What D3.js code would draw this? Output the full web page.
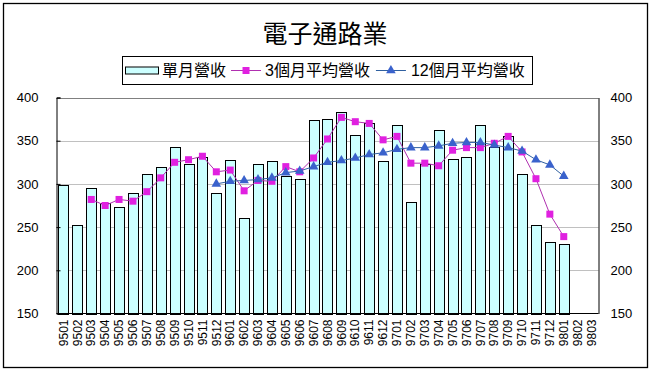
<!DOCTYPE html>
<html>
<head>
<meta charset="utf-8">
<script src="https://cdn.jsdelivr.net/npm/d3@7"></script>
<style>
  body { margin: 0; background: #fff; }
  text { font-family: "Liberation Sans", "Noto Sans CJK TC", sans-serif; }
</style>
</head>
<body>
<div class="canvas"></div>
<script>
const title = '電子通路業'
const categories = ['9501','9502','9503','9504','9505','9506','9507','9508','9509','9510','9511','9512',
    '9601','9602','9603','9604','9605','9606','9607','9608','9609','9610','9611','9612',
    '9701','9702','9703','9704','9705','9706','9707','9708','9709','9710','9711','9712',
    '9801','9802','9803']
const monthly = [299,252,295,278,273,289,312,319,343,323,331,289,
    328,260,323,327,309,306,374,375,383,357,370,326,
    368,279,323,362,329,331,368,343,355,311,252,233,
    230,null,null]
const avg3 = [null,null,282,275,282,280,291,307,325,328,332,314,
    316,292,304,303,320,314,330,352,377,372,370,351,
    355,324,324,321,339,342,342,347,355,337,306,265,
    239,null,null]
const avg12 = [null,null,null,null,null,null,null,null,null,null,null,300,
    303,304,305,307,313,315,320,325,327,330,334,336,
    340,342,342,344,347,348,348,345,342,338,328,322,
    309,null,null]
const yTicks = [150,200,250,300,350,400]
const seriesNames = ['單月營收','3個月平均營收','12個月平均營收']

const width = 652, height = 372
const svg = d3.select('.canvas').append('svg').attr('width', width).attr('height', height)

const plot = { left: 56.5, right: 598.5, top: 97.5, bottom: 313.5 }

// outer frame
svg.append('rect').attr('x', 3.5).attr('y', 3.5).attr('width', 644).attr('height', 364)
    .attr('fill', '#fff').attr('stroke', '#000').attr('stroke-width', 1.3)

svg.append('text').attr('x', 325).attr('y', 43).attr('text-anchor', 'middle')
    .style('font-family', '"Noto Sans CJK TC"').attr('font-size', 25).attr('font-weight', 400)
    .text(title)

const x = d3.scaleBand().domain(categories).range([plot.left, plot.right])
    .paddingInner(0.28).paddingOuter(0.14)
const y = d3.scaleLinear().domain([150, 400]).range([plot.bottom, plot.top])
const cx = c => x(c) + x.bandwidth() / 2

// grid
svg.append('g').selectAll('line').data(yTicks.filter(d => d > 150)).join('line')
    .attr('x1', plot.left).attr('x2', plot.right)
    .attr('y1', d => Math.round(y(d)) + 0.5).attr('y2', d => Math.round(y(d)) + 0.5)
    .attr('stroke', d => d === 400 ? '#808080' : '#c0c0c0').attr('stroke-width', 1)

// bars
const bars = categories.map((c, i) => ({ c, v: monthly[i] })).filter(d => d.v != null)
svg.append('g').selectAll('rect').data(bars).join('rect')
    .attr('x', d => Math.round(x(d.c)) + 0.5)
    .attr('y', d => Math.round(y(d.v)) + 0.5)
    .attr('width', Math.round(x.bandwidth()))
    .attr('height', d => Math.round(y(150)) - Math.round(y(d.v)))
    .attr('fill', '#ccffff').attr('stroke', '#000').attr('stroke-width', 1)

// axes
const leftAxis = d3.axisLeft(y).tickValues(yTicks).tickSize(-4).tickPadding(18)
const rightAxis = d3.axisRight(y).tickValues(yTicks).tickSize(0).tickPadding(12)
const gl = svg.append('g').attr('transform', `translate(${plot.left},0)`).call(leftAxis)
const gr = svg.append('g').attr('transform', `translate(${plot.right},0)`).call(rightAxis)
;[gl, gr].forEach(g => {
    g.select('.domain').attr('stroke', '#000')
    g.selectAll('.tick line').attr('stroke', '#000')
    g.selectAll('text').attr('font-size', 13).attr('fill', '#000')
        .style('font-family', '"Liberation Sans", sans-serif')
})
svg.append('line').attr('x1', plot.left).attr('x2', plot.right)
    .attr('y1', plot.bottom).attr('y2', plot.bottom).attr('stroke', '#000')

const xAxis = d3.axisBottom(x).tickSize(0).tickPadding(0)
const gx = svg.append('g').attr('transform', `translate(0,${plot.bottom})`).call(xAxis)
gx.select('.domain').remove()
gx.selectAll('text').attr('transform', 'translate(0,6) rotate(-90)')
    .attr('text-anchor', 'end').attr('x', 0).attr('y', 0).attr('dy', '0.35em')
    .attr('font-size', 12).attr('fill', '#000')
    .style('font-family', '"Liberation Sans", sans-serif')

// lines
const line = d3.line().defined(d => d.v != null).x(d => cx(d.c)).y(d => y(d.v))
const s3 = categories.map((c, i) => ({ c, v: avg3[i] }))
const s12 = categories.map((c, i) => ({ c, v: avg12[i] }))

svg.append('path').datum(s3).attr('d', line).attr('fill', 'none')
    .attr('stroke', '#b030b0').attr('stroke-width', 1)
svg.append('g').selectAll('rect').data(s3.filter(d => d.v != null)).join('rect')
    .attr('x', d => cx(d.c) - 3.5).attr('y', d => y(d.v) - 3.5)
    .attr('width', 7).attr('height', 7).attr('fill', '#e020e0')

svg.append('path').datum(s12).attr('d', line).attr('fill', 'none')
    .attr('stroke', '#3060a0').attr('stroke-width', 1)
const tri = d3.symbol().type(d3.symbolTriangle).size(40)
svg.append('g').selectAll('path').data(s12.filter(d => d.v != null)).join('path')
    .attr('d', tri).attr('transform', d => `translate(${cx(d.c)},${y(d.v)})`)
    .attr('fill', '#3a62cc')

// legend
const lg = svg.append('g')
lg.append('rect').attr('x', 122.5).attr('y', 56.5).attr('width', 410).attr('height', 28)
    .attr('fill', '#fff').attr('stroke', '#000').attr('stroke-width', 1)
const ly = 70.5
let lx = 125
const addText = (t) => {
    const el = lg.append('text').attr('x', lx).attr('y', ly).attr('dy', '0.35em')
        .attr('font-size', 16).attr('fill', '#000').text(t)
    lx += el.node().getComputedTextLength()
}
lg.append('rect').attr('x', lx + 0.5).attr('y', ly - 3.5).attr('width', 33).attr('height', 7)
    .attr('fill', '#ccffff').attr('stroke', '#000')
lx += 37
addText(seriesNames[0])
lx += 5
lg.append('line').attr('x1', lx).attr('x2', lx + 30).attr('y1', ly).attr('y2', ly).attr('stroke', '#b030b0')
lg.append('rect').attr('x', lx + 11.5).attr('y', ly - 3.5).attr('width', 7).attr('height', 7).attr('fill', '#e020e0')
lx += 34
addText(seriesNames[1])
lx += 6
lg.append('line').attr('x1', lx).attr('x2', lx + 30).attr('y1', ly).attr('y2', ly).attr('stroke', '#3060a0')
lg.append('path').attr('d', tri).attr('transform', `translate(${lx + 15},${ly})`).attr('fill', '#3a62cc')
lx += 35
addText(seriesNames[2])
</script>
</body>
</html>
